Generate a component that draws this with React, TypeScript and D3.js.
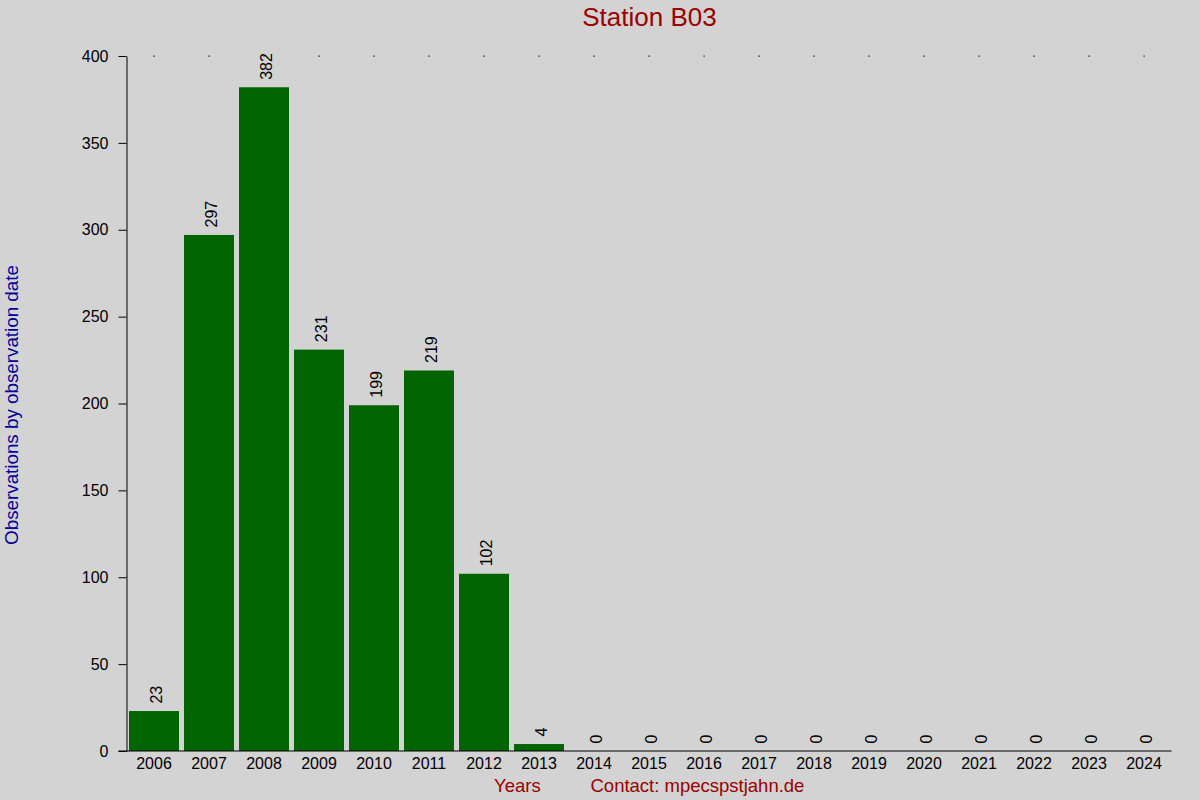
import { useEffect, useRef } from "react";
import * as d3 from "d3";

const years = [
  "2006", "2007", "2008", "2009", "2010", "2011", "2012", "2013", "2014", "2015",
  "2016", "2017", "2018", "2019", "2020", "2021", "2022", "2023", "2024",
];
const counts = [23, 297, 382, 231, 199, 219, 102, 4, 0, 0, 0, 0, 0, 0, 0, 0, 0, 0, 0];
const yTicks = [0, 50, 100, 150, 200, 250, 300, 350, 400];

const FONT = "'Liberation Sans', Arial, sans-serif";

export default function App() {
  const svgRef = useRef<SVGSVGElement>(null);

  useEffect(() => {
    const svg = svgRef.current;
    if (!svg) return;
    const sel = d3.select(svg);
    sel.selectAll("*").remove();

    const left = 126.5;
    const right = 1171.5;
    const top = 56;
    const bottom = 751;

    sel.append("rect").attr("width", 1200).attr("height", 800).attr("fill", "#d3d3d3");

    const x = d3.scaleBand<string>().domain(years).range([left, right]).paddingInner(0).paddingOuter(0);
    const y = d3.scaleLinear().domain([0, 400]).range([bottom, top]);
    const barW = x.bandwidth() - 5;

    // top dots
    sel.append("g")
      .selectAll("rect")
      .data(years)
      .enter()
      .append("rect")
      .attr("x", (d) => (x(d) || 0) + x.bandwidth() / 2 - 0.5)
      .attr("y", top - 0.5)
      .attr("width", 1.2)
      .attr("height", 1.2)
      .attr("fill", "#000");

    // bars
    sel.append("g")
      .selectAll("rect")
      .data(years)
      .enter()
      .append("rect")
      .attr("x", (d) => (x(d) || 0) + 2.5)
      .attr("y", (_d, i) => y(counts[i]))
      .attr("width", barW)
      .attr("height", (_d, i) => bottom - y(counts[i]))
      .attr("fill", "#006400");

    // value labels
    sel.append("g")
      .selectAll("text")
      .data(years)
      .enter()
      .append("text")
      .attr("transform", (d, i) => {
        const cx = (x(d) || 0) + x.bandwidth() / 2;
        return `translate(${cx + 7.5},${y(counts[i]) - 7.5}) rotate(-90)`;
      })
      .attr("font-family", FONT)
      .attr("font-size", 16)
      .attr("fill", "#000")
      .text((_d, i) => String(counts[i]));

    // y axis
    const yAxis = sel.append("g").attr("transform", `translate(${left},0)`)
      .call(d3.axisLeft(y).tickValues(yTicks).tickSize(8).tickPadding(10).tickSizeOuter(0));
    yAxis.selectAll("line, path").attr("stroke", "#000");
    yAxis.selectAll("text").attr("font-family", FONT).attr("font-size", 16).attr("fill", "#000");

    // x axis
    sel.append("line")
      .attr("x1", left - 8).attr("x2", right)
      .attr("y1", bottom).attr("y2", bottom)
      .attr("stroke", "#000");
    const xAxis = sel.append("g").attr("transform", `translate(0,${bottom})`)
      .call(d3.axisBottom(x).tickSize(0).tickPadding(7));
    xAxis.select(".domain").remove();
    xAxis.selectAll("text").attr("font-family", FONT).attr("font-size", 16).attr("fill", "#000");

    // titles
    sel.append("text")
      .attr("x", 649.5).attr("y", 26)
      .attr("text-anchor", "middle")
      .attr("font-family", FONT).attr("font-size", 26)
      .attr("fill", "#990000")
      .text("Station B03");

    sel.append("text")
      .attr("x", 494).attr("y", 792)
      .attr("font-family", FONT).attr("font-size", 18.5)
      .attr("fill", "#990000")
      .text("Years");

    sel.append("text")
      .attr("x", 590.5).attr("y", 792)
      .attr("font-family", FONT).attr("font-size", 18.5)
      .attr("fill", "#990000")
      .text("Contact: mpecspstjahn.de");

    sel.append("text")
      .attr("transform", "translate(18,405) rotate(-90)")
      .attr("text-anchor", "middle")
      .attr("font-family", FONT).attr("font-size", 18.8)
      .attr("fill", "#000099")
      .text("Observations by observation date");
  }, []);

  return (
    <svg
      ref={svgRef}
      width={1200}
      height={800}
      style={{ position: "absolute", left: 0, top: 0, display: "block" }}
    />
  );
}
